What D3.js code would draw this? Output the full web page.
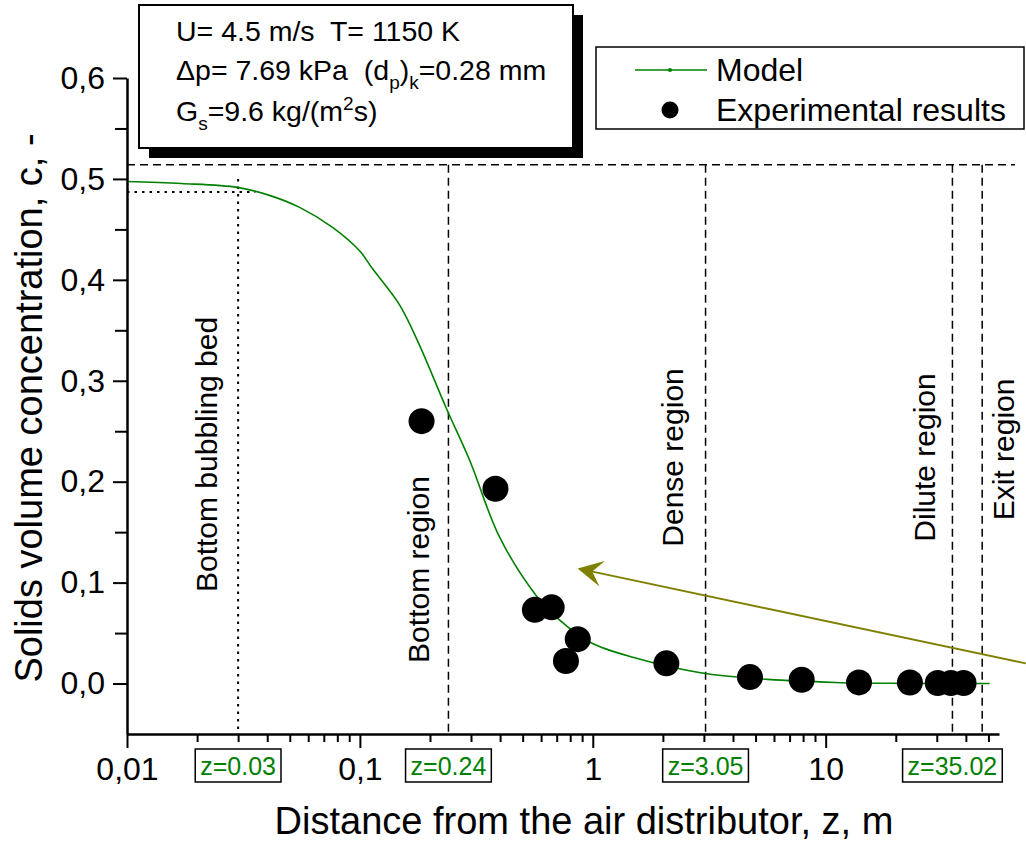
<!DOCTYPE html>
<html>
<head>
<meta charset="utf-8">
<script src="https://cdn.jsdelivr.net/npm/d3@7"></script>
<style>
    html, body { margin: 0; padding: 0; background: #fff; overflow: hidden; }
    svg { display: block; }
    text { font-family: "Liberation Sans", Arial, sans-serif; }
</style>
</head>
<body>
<div id="chart"></div>
<script>
// model curve
const modelZ = [0.01, 0.0171, 0.0298, 0.0409, 0.0551, 0.0763, 0.0995, 0.113, 0.148, 0.180, 0.235, 0.296, 0.398, 0.574, 0.713, 0.978, 1.50, 2.90, 5.64, 11.0, 21.4, 50.6];
const modelC = [0.4975, 0.4955, 0.4916, 0.4837, 0.4718, 0.4520, 0.4290, 0.4114, 0.3752, 0.3356, 0.2728, 0.2213, 0.1450, 0.0866, 0.0639, 0.0406, 0.0257, 0.0107, 0.0041, 0.0011, 0.0002, 0.0];

// experimental points
const expZ = [0.184, 0.382, 0.564, 0.666, 0.862, 0.767, 2.07, 4.73, 7.89, 13.9, 23.0, 30.3, 34.5, 39.1];
const expC = [0.260, 0.193, 0.073, 0.0755, 0.044, 0.0223, 0.020, 0.0064, 0.0038, 0.0011, 0.001, 0.0005, 0.0005, 0.0005];

const xTicks = [0.01, 0.1, 1, 10];
const xTickLabels = ["0,01", "0,1", "1", "10"];
const yTicks = [0, 0.1, 0.2, 0.3, 0.4, 0.5, 0.6];
const yTickLabels = ["0,0", "0,1", "0,2", "0,3", "0,4", "0,5", "0,6"];
const yMinorTicks = [0.05, 0.15, 0.25, 0.35, 0.45, 0.55];

// region boundaries
const boundaryZ = [0.24, 3.05, 35.02, 47];
const topLevelC = 0.514;
const bedZ = 0.03;
const bedC = 0.487;
const boxLabels = ["z=0.03", "z=0.24", "z=3.05", "z=35.02"];
const boxZ = [0.03, 0.24, 3.05, 35.02];

const regionNames = ["Bottom bubbling bed", "Bottom region", "Dense region", "Dilute region", "Exit region"];
const regionZ = [0.0244, 0.199, 2.45, 29.6, 64.1];
const regionC = [0.227, 0.113, 0.224, 0.224, 0.232];

// arrow: tail -> tip
const arrowZ = [72.3, 0.861];
const arrowC = [0.020, 0.114];

const margin = { left: 127, right: 27, top: 78, bottom: 113 };
const width = 1026, height = 847;
const innerWidth = width - margin.left - margin.right;
const innerHeight = height - margin.top - margin.bottom;
const green = '#008000';
const font = '"Liberation Sans", Arial, sans-serif';

const svg = d3.select('#chart').append('svg')
    .attr('width', width)
    .attr('height', height)
    .attr('font-family', font);

const g = svg.append('g')
    .attr('transform', `translate(${margin.left},${margin.top})`);

const xScale = d3.scaleLog().domain([0.01, 55.5]).range([0, innerWidth]);
const yScale = d3.scaleLinear().domain([-0.05, 0.6]).range([innerHeight, 0]);

// reference lines
g.append('line')
    .attr('x1', 0).attr('x2', innerWidth + 16)
    .attr('y1', yScale(topLevelC)).attr('y2', yScale(topLevelC))
    .attr('stroke', '#000').attr('stroke-width', 1.5).attr('stroke-dasharray', '8,5');

g.selectAll('.boundary').data(boundaryZ)
    .enter().append('line')
    .attr('x1', d => xScale(d)).attr('x2', d => xScale(d))
    .attr('y1', yScale(topLevelC)).attr('y2', innerHeight)
    .attr('stroke', '#000').attr('stroke-width', 1.5).attr('stroke-dasharray', '8,5');

g.append('line')
    .attr('x1', 0).attr('x2', xScale(0.0356))
    .attr('y1', yScale(bedC)).attr('y2', yScale(bedC))
    .attr('stroke', '#000').attr('stroke-width', 2).attr('stroke-dasharray', '2.5,5');

g.append('line')
    .attr('x1', xScale(bedZ)).attr('x2', xScale(bedZ))
    .attr('y1', yScale(0.5)).attr('y2', innerHeight)
    .attr('stroke', '#000').attr('stroke-width', 2).attr('stroke-dasharray', '2.5,5');

// region labels
g.selectAll('.region').data(regionNames)
    .enter().append('text')
    .attr('transform', (d, i) => `translate(${xScale(regionZ[i])},${yScale(regionC[i])}) rotate(-90)`)
    .attr('text-anchor', 'middle')
    .attr('font-size', 30)
    .text(d => d);

// model curve
const modelData = modelZ.map((z, i) => ({ z: z, c: modelC[i] }));
const line = d3.line()
    .x(d => xScale(d.z))
    .y(d => yScale(d.c))
    .curve(d3.curveCatmullRom.alpha(0.5));
g.append('path')
    .datum(modelData)
    .attr('d', line)
    .attr('fill', 'none')
    .attr('stroke', green)
    .attr('stroke-width', 1.6);

// experimental points
g.selectAll('.exp').data(expZ)
    .enter().append('circle')
    .attr('cx', d => xScale(d))
    .attr('cy', (d, i) => yScale(expC[i]))
    .attr('r', 13)
    .attr('fill', '#000');

// arrow
const olive = '#808000';
const tail = [xScale(arrowZ[0]), yScale(arrowC[0])];
const tip = [xScale(arrowZ[1]), yScale(arrowC[1])];
const dx = tail[0] - tip[0], dy = tail[1] - tip[1];
const len = Math.sqrt(dx * dx + dy * dy);
const ux = dx / len, uy = dy / len, nx = -uy, ny = ux;
const pt = (a, b) => [tip[0] + ux * a + nx * b, tip[1] + uy * a + ny * b];
g.append('line')
    .attr('x1', tail[0]).attr('y1', tail[1])
    .attr('x2', pt(14, 0)[0]).attr('y2', pt(14, 0)[1])
    .attr('stroke', olive).attr('stroke-width', 2);
g.append('path')
    .attr('d', 'M' + [tip, pt(25, -13), pt(15, 0), pt(25, 13)].map(p => p.join(',')).join('L') + 'Z')
    .attr('fill', olive);

// axes
const xAxis = d3.axisBottom(xScale)
    .tickValues(xTicks)
    .tickFormat((d, i) => xTickLabels[i])
    .tickSize(14)
    .tickPadding(9)
    .tickSizeOuter(0);
const xMinor = [];
xTicks.forEach(t => { for (let k = 2; k <= 9; k++) if (k * t < 55.5) xMinor.push(k * t); });
const xMinorAxis = d3.axisBottom(xScale).tickValues(xMinor).tickFormat('').tickSize(8);

const yAxis = d3.axisLeft(yScale)
    .tickValues(yTicks)
    .tickFormat((d, i) => yTickLabels[i])
    .tickSize(14)
    .tickPadding(8)
    .tickSizeOuter(0);
const yMinorAxis = d3.axisLeft(yScale).tickValues(yMinorTicks).tickFormat('').tickSize(12);

const xMinorG = g.append('g').attr('transform', `translate(0,${innerHeight})`).call(xMinorAxis);
const yMinorG = g.append('g').call(yMinorAxis);
xMinorG.select('.domain').remove();
yMinorG.select('.domain').remove();
xMinorG.selectAll('text').remove();
yMinorG.selectAll('text').remove();
const xAxisG = g.append('g').attr('transform', `translate(0,${innerHeight})`).call(xAxis)
    .attr('font-size', 32).attr('font-family', font);
const yAxisG = g.append('g').call(yAxis)
    .attr('font-size', 32).attr('font-family', font);

g.selectAll('.tick line').attr('stroke-width', 2);
g.selectAll('.domain').attr('stroke-width', 2.5);

// boundary boxes under the axis
boxLabels.forEach((label, i) => {
    const bx = g.append('g').attr('transform', `translate(${xScale(boxZ[i])},${innerHeight + 15})`);
    const t = bx.append('text')
        .attr('x', 0).attr('y', 25.5)
        .attr('text-anchor', 'middle')
        .attr('fill', green)
        .attr('font-size', 25)
        .text(label);
    const w = t.node().getComputedTextLength() + 10;
    bx.insert('rect', 'text')
        .attr('x', -w / 2).attr('y', 0)
        .attr('width', w).attr('height', 33)
        .attr('fill', '#fff')
        .attr('stroke', '#000')
        .attr('stroke-width', 1.5);
});

// axis titles
svg.append('text')
    .attr('x', 584).attr('y', 834)
    .attr('text-anchor', 'middle')
    .attr('font-size', 38)
    .text('Distance from the air distributor, z, m');

svg.append('text')
    .attr('transform', 'translate(42,408) rotate(-90)')
    .attr('text-anchor', 'middle')
    .attr('font-size', 38)
    .text('Solids volume concentration, c, -');

// info box
svg.append('rect')
    .attr('x', 149).attr('y', 15).attr('width', 434).attr('height', 143)
    .attr('fill', '#000');
svg.append('rect')
    .attr('x', 139).attr('y', 5).attr('width', 434).attr('height', 143)
    .attr('fill', '#fff').attr('stroke', '#000').attr('stroke-width', 2);

const info = svg.append('g').attr('font-size', 28.5);
info.append('text').attr('x', 176).attr('y', 41)
    .style('white-space', 'pre')
    .text('U= 4.5 m/s  T= 1150 K');

const l2 = info.append('text').attr('x', 176).attr('y', 80).style('white-space', 'pre');
l2.append('tspan').text('\u0394p= 7.69 kPa  (d');
l2.append('tspan').attr('dy', 9).attr('font-size', 19).text('p');
l2.append('tspan').attr('dy', -9).text(')');
l2.append('tspan').attr('dy', 9).attr('font-size', 19).text('k');
l2.append('tspan').attr('dy', -9).text('=0.28 mm');

const l3 = info.append('text').attr('x', 176).attr('y', 121);
l3.append('tspan').text('G');
l3.append('tspan').attr('dy', 9).attr('font-size', 19).text('s');
l3.append('tspan').attr('dy', -9).text('=9.6 kg/(m');
l3.append('tspan').attr('dy', -11).attr('font-size', 19).text('2');
l3.append('tspan').attr('dy', 11).text('s)');

// legend
const legend = svg.append('g');
legend.append('rect')
    .attr('x', 596).attr('y', 47).attr('width', 428).attr('height', 82)
    .attr('fill', '#fff').attr('stroke', '#000').attr('stroke-width', 1.5);
legend.append('line')
    .attr('x1', 635).attr('x2', 707).attr('y1', 70).attr('y2', 70)
    .attr('stroke', green).attr('stroke-width', 1.6);
legend.append('circle').attr('cx', 670).attr('cy', 70).attr('r', 2).attr('fill', green);
legend.append('circle').attr('cx', 670).attr('cy', 110).attr('r', 8.5).attr('fill', '#000');
legend.append('text').attr('x', 716).attr('y', 81).attr('font-size', 32).text('Model');
legend.append('text').attr('x', 716).attr('y', 121).attr('font-size', 32).text('Experimental results');
</script>
</body>
</html>
